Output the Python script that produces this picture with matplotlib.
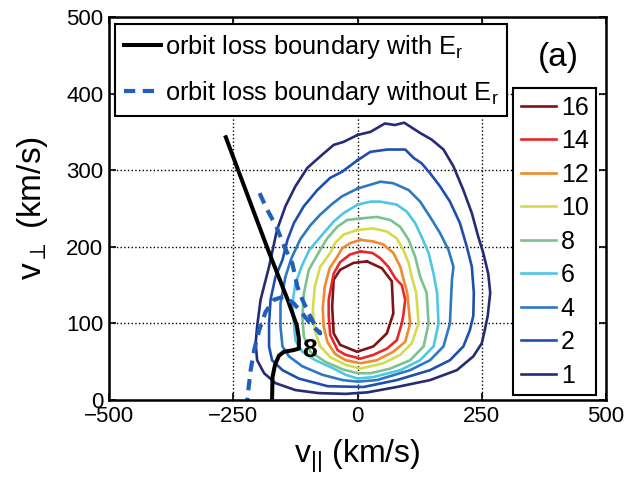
import numpy as np
import matplotlib.pyplot as plt

plt.rcParams['font.family'] = ['Liberation Sans', 'DejaVu Sans']
plt.rcParams['mathtext.fontset'] = 'custom'
plt.rcParams['mathtext.rm'] = 'Liberation Sans'
plt.rcParams['mathtext.it'] = 'Liberation Sans'

# contour levels of the distribution and their line colours
levels = [16, 14, 12, 10, 8, 6, 4, 2, 1]
level_colors = ['#7d1518', '#e8262b', '#f08a2c', '#d4dc4c', '#7cc28f',
                '#4ec6e4', '#2e78c2', '#1f4fad', '#252b74']

# contour paths (v_par, v_perp) in km/s
c16_vpar = [19, 49, 69, 72, 59, 32, -1, -35, -48, -51, -48, -35, -8]
c16_vperp = [181, 172, 155, 113, 87, 70, 63, 72, 87, 122, 157, 170, 179]

c14_vpar = [6, 30, 46, 62, 76, 89, 96, 92, 89, 79, 59, 32, 6, -24, -40, -55, -58, -58, -48, -35, -15]
c14_vperp = [194, 192, 185, 174, 159, 150, 131, 110, 100, 78, 67, 59, 54, 59, 65, 85, 110, 131, 165, 180, 190]

c12_vpar = [6, 32, 52, 72, 86, 92, 100, 106, 96, 72, 39, 6, -24, -45, -60, -68, -70, -66, -56, -38, -31, -14]
c12_vperp = [209, 207, 203, 192, 174, 159, 140, 100, 76, 63, 52, 48, 52, 60, 75, 95, 120, 148, 172, 190, 198, 205]

c10_vpar = [-1, 32, 59, 79, 92, 103, 109, 118, 123, 109, 86, 52, 6, -24, -55, -75, -86, -90, -86, -75, -55, -45, -28]
c10_vperp = [222, 224, 220, 211, 196, 179, 161, 140, 100, 74, 59, 48, 41, 46, 56, 70, 91, 118, 148, 174, 192, 205, 216]

c8_vpar = [6, 39, 66, 86, 103, 116, 126, 139, 143, 133, 106, 66, 26, 0, -30, -65, -95, -108, -111, -108, -98, -75, -61, -41, -21]
c8_vperp = [237, 239, 235, 226, 209, 187, 161, 140, 100, 70, 52, 41, 35, 35, 40, 50, 63, 83, 109, 139, 170, 196, 211, 226, 235]

c6_vpar = [0, 26, 46, 79, 99, 116, 129, 143, 153, 160, 163, 153, 126, 86, 32, 0, -24, -51, -85, -111, -125, -128,
           -131, -125, -112, -97, -68, -48, -28]
c6_vperp = [255, 259, 259, 255, 246, 231, 213, 192, 165, 140, 100, 70, 52, 39, 30, 28, 33, 42, 52, 63, 78, 100,
            126, 152, 175, 196, 218, 233, 244]

c4_vpar = [0, 46, 72, 103, 126, 146, 166, 183, 193, 190, 188, 186, 173, 146, 106, 39, 0, -30, -71, -111, -138,
           -151, -155, -155, -145, -133, -115, -95, -75, -51, -31]
c4_vperp = [276, 285, 283, 274, 259, 239, 218, 196, 174, 157, 130, 100, 70, 52, 39, 26, 24, 26, 33, 44, 57,
            70, 96, 126, 161, 185, 210, 228, 242, 256, 266]

c2_vpar = [0, 26, 60, 96, 113, 129, 146, 166, 186, 206, 220, 230, 234, 233, 226, 213, 186, 146, 79, 12, -60,
           -118, -151, -172, -178, -178, -175, -165, -151, -141, -128, -108, -81, -55, -31]
c2_vperp = [313, 324, 327, 327, 316, 309, 296, 279, 259, 231, 200, 174, 140, 110, 91, 70, 52, 39, 26, 17, 18,
            28, 39, 52, 70, 100, 131, 161, 183, 209, 231, 253, 274, 290, 298]

c1_vpar = [0, 26, 55, 75, 94, 125, 149, 173, 193, 213, 230, 243, 253, 263, 267, 262, 256, 250, 233, 200, 146,
           79, 20, -24, -78, -125, -165, -188, -202, -205, -202, -195, -178, -172, -162, -145, -125, -101, -75,
           -48, -28]
c1_vperp = [346, 350, 361, 359, 362, 349, 340, 327, 305, 274, 244, 213, 192, 165, 140, 110, 91, 74, 57, 39, 26,
            17, 10, 8, 9, 13, 22, 35, 52, 74, 96, 131, 174, 192, 222, 253, 279, 303, 318, 333, 337]

contours = [(c16_vpar, c16_vperp), (c14_vpar, c14_vperp), (c12_vpar, c12_vperp),
            (c10_vpar, c10_vperp), (c8_vpar, c8_vperp), (c6_vpar, c6_vperp),
            (c4_vpar, c4_vperp), (c2_vpar, c2_vperp), (c1_vpar, c1_vperp)]

# orbit loss boundaries
with_er_vpar = [-265, -180, -140, -122, -118, -118, -130, -148, -158, -166, -171, -172]
with_er_vperp = [343, 196, 130, 97, 80, 67, 65, 63, 58, 46, 30, 0]

without_er_vpar = [-197, -183, -163, -147, -131, -121, -111, -98, -88, -75,
                   -95, -111, -128, -148, -168, -185, -198, -208, -215, -222]
without_er_vperp = [270, 250, 226, 200, 178, 148, 131, 113, 100, 87,
                    100, 113, 126, 135, 131, 115, 91, 65, 39, 0]

fig = plt.figure(figsize=(6.28, 4.79), dpi=100)
ax = fig.add_axes([0.1736, 0.1649, 0.7914, 0.7996])

ax.grid(True, linestyle=':', color='black', linewidth=1.0)
ax.set_axisbelow(True)

contour_handles = []
for lev, col, (cx, cy) in zip(levels, level_colors, contours):
    cx = list(cx) + [cx[0]]
    cy = list(cy) + [cy[0]]
    h, = ax.plot(cx, cy, color=col, linewidth=1.9, label=str(lev))
    contour_handles.append(h)

h1, = ax.plot(with_er_vpar, with_er_vperp, color='black', linewidth=2.9,
              label=r'orbit loss boundary with E$_\mathregular{r}$')
h2, = ax.plot(without_er_vpar, without_er_vperp, color='#2160b8', linewidth=3.0,
              linestyle=(0, (2.7, 1.8)), label=r'orbit loss boundary without E$_\mathregular{r}$')

ax.text(-97, 65, '8', fontsize=19, fontweight='bold', ha='center', va='center')
ax.text(0.905, 0.895, '(a)', transform=ax.transAxes, fontsize=24, ha='center', va='center')

ax.set_xlim(-500, 500)
ax.set_ylim(0, 500)
ax.set_xticks([-500, -250, 0, 250, 500])
ax.set_yticks([0, 100, 200, 300, 400, 500])
ax.tick_params(direction='in', length=5, width=1.2, labelsize=16, top=True, right=True, pad=4)
for s in ax.spines.values():
    s.set_linewidth(1.8)

ax.set_xlabel(r'v$_{||}$ (km/s)', fontsize=23, labelpad=8)
ax.set_ylabel(r'v$_{\perp}$ (km/s)', fontsize=24, labelpad=12)

leg1 = ax.legend(handles=[h1, h2], loc='upper left', bbox_to_anchor=(0.012, 0.982),
                 borderaxespad=0, fontsize=18.3, frameon=True, fancybox=False,
                 edgecolor='black', framealpha=1, handlelength=1.45, handletextpad=0.15,
                 labelspacing=0.72, borderpad=0.35)
leg1.get_frame().set_linewidth(1.5)
ax.add_artist(leg1)

leg2 = ax.legend(handles=contour_handles, loc='lower right', bbox_to_anchor=(0.98, 0.013),
                 borderaxespad=0, fontsize=18, frameon=True, fancybox=False,
                 edgecolor='black', framealpha=1, handlelength=1.4, handletextpad=0.2,
                 labelspacing=0.38, borderpad=0.3)
leg2.get_frame().set_linewidth(1.5)

plt.savefig('out.png', dpi=100)
